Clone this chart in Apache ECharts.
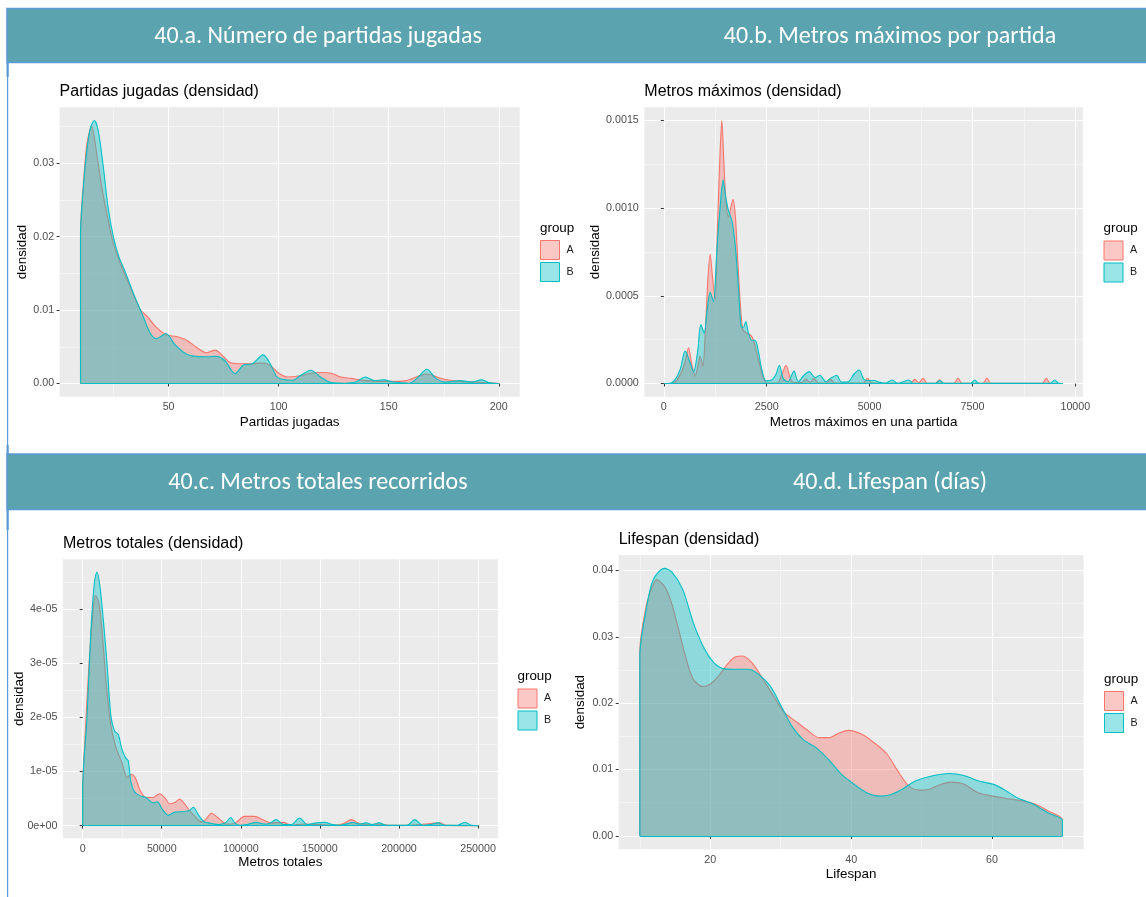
<!DOCTYPE html>
<html>
<head>
<meta charset="utf-8">
<title>Densidades por grupo</title>
<script src="https://cdn.jsdelivr.net/npm/echarts@6.0.0/dist/echarts.min.js"></script>
<style>
  html, body { margin: 0; padding: 0; background: #ffffff; }
  #chart { width: 1146px; height: 897px; }
</style>
</head>
<body>
<div id="chart"></div>
<script>
// ---- Density estimates: [x, density] per group ----
const partidasA = [[10,0.0205],[11.5,0.028],[13,0.0328],[15,0.035],[17.35,0.0313],[19.6,0.0268],[21.9,0.0232],[24.9,0.0191],[28.7,0.0159],[32.5,0.0132],[37,0.0101],[40.1,0.0092],[44.6,0.0076],[49.2,0.0066],[53.7,0.0064],[58.2,0.0059],[62.8,0.0049],[67.3,0.0042],[71.1,0.00455],[74.9,0.0037],[77.9,0.00285],[82.4,0.0027],[87.8,0.0027],[93,0.0028],[96.5,0.0024],[99.6,0.0015],[104,0.0009],[108.4,0.001],[114.6,0.0014],[119.8,0.0015],[124,0.0014],[128.3,0.0009],[133,0.0007],[139.4,0.0004],[146.5,0.0003],[153.2,0.0003],[158,0.0004],[162.5,0.0009],[167.3,0.0013],[172.7,0.0008],[178,0.00045],[182.6,0.0003],[189.5,0.0002],[196,0.0001],[200,0]];
const partidasB = [[10,0.0202],[11.5,0.0275],[13,0.032],[14.5,0.0348],[16.3,0.0358],[18,0.0345],[20.35,0.0295],[22.5,0.024],[24.9,0.02],[27.5,0.0172],[30.2,0.0153],[34,0.0123],[37.8,0.0096],[41.6,0.0069],[44.3,0.0061],[46.5,0.0064],[48.8,0.0068],[52.9,0.0053],[58.2,0.004],[62.8,0.0037],[67,0.00365],[71.9,0.0037],[75.6,0.0031],[80.2,0.00135],[83.9,0.0025],[88,0.0027],[93,0.0039],[96.5,0.0025],[99.6,0.0008],[106.2,0.00045],[110.5,0.0012],[114.6,0.0018],[119,0.0009],[123.7,0.00013],[130,0.00005],[135,0.0002],[139.4,0.0009],[143.5,0.0004],[147.8,0.0005],[152,0.0002],[159.5,0.00005],[163.5,0.0009],[167.3,0.00194],[171.8,0.0006],[176,0.0002],[182.6,0.0004],[187.7,0.0002],[192.2,0.0005],[196,0.0001],[200,0]];

const metrosMaxA = [[10,0],[200,0.000002],[320,0.00002],[439,0.000071],[519,0.000128],[600,0.000204],[681,0.000109],[762,0.000043],[842,0.000119],[883,0.000156],[948,0.0001],[1004,0.00027],[1069,0.00059],[1126,0.000737],[1182,0.000609],[1247,0.000477],[1303,0.00089],[1368,0.001326],[1409,0.0015],[1458,0.00127],[1514,0.001025],[1570,0.00095],[1628,0.001005],[1684,0.00105],[1740,0.00095],[1788,0.00074],[1853,0.000477],[1919,0.000307],[1999,0.000289],[2096,0.000279],[2176,0.00025],[2258,0.000175],[2339,0.0001],[2419,0.000034],[2500,0.000003],[2750,0.000003],[2850,0.00004],[2970,0.000104],[3060,0.00004],[3147,0.000006],[3350,0.000005],[3450,0.000025],[3550,0.000005],[3650,0.00003],[3750,0.000005],[3950,0.000003],[4050,0.000025],[4150,0.000003],[4850,0.000003],[4950,0.00003],[5050,0.000003],[6000,0.000002],[6099,0.000024],[6200,0.000005],[6301,0.00003],[6400,0.000002],[6600,0.000002],[6700,0.000022],[6800,0.000002],[7050,0.000002],[7150,0.00003],[7250,0.000002],[7750,0.000002],[7853,0.00003],[7950,0.000002],[9200,0.000002],[9294,0.00003],[9390,0.000002],[9700,0]];
const metrosMaxB = [[10,0],[155,0.000001],[277,0.000024],[398,0.000081],[519,0.000185],[640,0.000119],[721,0.000066],[818,0.000175],[900,0.000336],[980,0.000289],[1045,0.000402],[1126,0.00052],[1206,0.000468],[1288,0.00076],[1368,0.001005],[1441,0.00116],[1506,0.00106],[1570,0.000987],[1652,0.00093],[1732,0.000798],[1812,0.000552],[1878,0.000326],[1934,0.00032],[1991,0.000354],[2055,0.000289],[2137,0.000247],[2217,0.000247],[2298,0.000185],[2379,0.000081],[2484,0.000015],[2622,0.00002],[2727,0.000053],[2808,0.000104],[2905,0.000028],[3026,0.00001],[3090,0.00004],[3164,0.000071],[3268,0.00001],[3390,0.000043],[3535,0.000068],[3673,0.000034],[3794,0.000047],[3940,0.00001],[4053,0.00003],[4199,0.000047],[4320,0.000008],[4481,0.00001],[4619,0.000053],[4748,0.000077],[4862,0.000024],[5009,0.000017],[5129,0.000017],[5234,0.000008],[5380,0.000002],[5549,0.00002],[5680,0.000001],[5953,0.00002],[6060,0.000001],[6600,0.000001],[6706,0.000017],[6810,0.000001],[7450,0.000001],[7555,0.00002],[7660,0.000001],[9390,0.000001],[9496,0.00002],[9600,0.000001],[9700,0]];

const metrosTotA = [[0,0.0000065],[1650,0.0000172],[3950,0.0000295],[6270,0.0000387],[8100,0.0000426],[10200,0.0000412],[12530,0.000035],[14800,0.0000265],[17850,0.0000185],[21340,0.0000142],[24760,0.0000117],[28260,0.0000089],[30580,0.0000095],[33200,0.0000089],[36350,0.0000065],[40100,0.0000052],[44450,0.0000052],[48570,0.0000059],[52700,0.0000049],[54900,0.000004],[58500,0.0000043],[61230,0.0000049],[64500,0.000004],[67560,0.0000028],[71000,0.0000017],[74970,0.0000007],[78000,0.0000012],[81300,0.0000023],[86560,0.0000012],[90800,0.0000003],[94000,0.0000003],[97130,0.0000006],[102400,0.0000017],[108700,0.0000017],[114000,0.0000011],[119300,0.0000005],[126640,0.0000006],[132000,0.0000001],[140000,0.0000003],[150000,0.0000002],[160000,0.0000001],[165000,0.0000004],[169900,0.0000011],[175000,0.0000004],[182000,0.0000002],[188000,0.0000003],[195000,0.00000005],[205000,0.00000005],[214000,0.0000002],[219500,0.0000004],[225800,0.0000005],[230000,0.00000005],[250000,0]];
const metrosTotB = [[0,0.0000065],[2786,0.0000203],[5129,0.0000357],[7408,0.0000449],[9055,0.0000469],[10890,0.0000443],[13230,0.0000375],[15510,0.0000295],[17850,0.0000203],[20140,0.0000175],[22480,0.0000169],[24760,0.0000142],[27100,0.0000126],[28750,0.000012],[30580,0.000008],[32870,0.0000062],[36350,0.0000055],[39830,0.0000052],[44450,0.0000042],[47240,0.0000044],[50210,0.0000031],[54200,0.0000019],[58320,0.0000025],[64140,0.0000026],[67560,0.0000028],[69910,0.0000034],[73390,0.0000019],[76870,0.0000007],[81490,0.0000004],[86100,0.0000002],[90740,0.0000006],[93530,0.0000015],[96500,0.0000004],[99300,0.00000005],[104000,0.0000002],[109800,0.0000006],[115000,0.0000003],[118000,0.0000004],[122450,0.0000011],[127000,0.0000002],[132000,0.0000002],[137200,0.0000014],[142000,0.0000002],[148000,0.0000005],[153000,0.0000006],[158000,0.0000002],[163000,0.00000005],[171000,0.0000006],[175000,0.0000003],[179400,0.0000005],[183000,0.0000002],[187400,0.0000005],[192000,0.00000005],[205000,0.00000005],[210000,0.0000011],[215000,0.00000005],[220000,0.0000002],[224800,0.0000005],[229000,0.00000005],[237000,0.00000005],[241700,0.0000006],[246000,0.00000005],[250000,0]];

const lifespanA = [[10,0.0278],[10.9,0.0346],[11.7,0.0373],[12.4,0.0386],[13.5,0.0376],[14.5,0.0351],[15.5,0.0311],[16.6,0.0266],[17.6,0.0236],[18.9,0.0225],[19.9,0.0228],[21.2,0.0241],[22.3,0.0257],[23.6,0.027],[24.6,0.0271],[25.9,0.0261],[27.5,0.0236],[29,0.021],[30.6,0.0185],[32.1,0.0173],[33.7,0.016],[35.5,0.0148],[36.8,0.0148],[38.3,0.0155],[39.6,0.0159],[41.5,0.0153],[43.3,0.014],[45.1,0.0123],[46.6,0.0098],[48.2,0.0075],[49.7,0.0069],[51,0.007],[52.3,0.0076],[54.1,0.0081],[56,0.0078],[58,0.0065],[60.1,0.006],[62.2,0.0056],[64.2,0.0053],[66.1,0.0048],[67.9,0.0038],[70,0.0024]];
const lifespanB = [[10,0.0271],[10.9,0.0341],[11.9,0.0386],[13.5,0.0403],[14.5,0.0398],[16.1,0.0371],[17.6,0.0321],[19.2,0.0281],[20.5,0.0261],[21.8,0.0252],[23.3,0.0251],[25.4,0.0251],[26.9,0.0243],[28.5,0.0226],[30.1,0.0195],[31.6,0.0165],[33.2,0.0145],[35,0.0133],[36.8,0.0115],[38.6,0.0093],[40.4,0.0078],[42.2,0.0065],[44,0.006],[45.6,0.0062],[47.2,0.007],[49.2,0.0083],[51.3,0.009],[53.9,0.0094],[56,0.0091],[58,0.0083],[60.1,0.0078],[61.7,0.007],[63.5,0.0058],[65.8,0.0048],[67.9,0.0035],[70,0.0023]];

// ---- Axis breaks ----
const partidasBreaksX = [50, 100, 150, 200];
const partidasBreaksY = [0, 0.01, 0.02, 0.03];
const metrosMaxBreaksX = [0, 2500, 5000, 7500, 10000];
const metrosMaxBreaksY = [0, 0.0005, 0.001, 0.0015];
const metrosTotBreaksX = [0, 50000, 100000, 150000, 200000, 250000];
const metrosTotBreaksY = [0, 1e-5, 2e-5, 3e-5, 4e-5];
const lifespanBreaksX = [20, 40, 60];
const lifespanBreaksY = [0, 0.01, 0.02, 0.03, 0.04];

// ---- Texts ----
const groupNames = ['A', 'B'];
const headerTexts = ['40.a. Número de partidas jugadas', '40.b. Metros máximos por partida', '40.c. Metros totales recorridos', '40.d. Lifespan (días)'];
const plotTitles = ['Partidas jugadas (densidad)', 'Metros máximos (densidad)', 'Metros totales (densidad)', 'Lifespan (densidad)'];
const xTitles = ['Partidas jugadas', 'Metros máximos en una partida', 'Metros totales', 'Lifespan'];
const yTitle = 'densidad';
const legendTitle = 'group';

// ---- Styling ----
const FONT = "'Liberation Sans', Arial, Helvetica, sans-serif";
const HEAD_FONT = "Carlito, Calibri, Lato, sans-serif";
const lineColors = ['#F8766D', '#00BFC4'];
const fillColors = ['rgba(248,118,109,0.4)', 'rgba(0,191,196,0.4)'];
const PANEL_BG = '#EBEBEB';

const fmt2 = v => v.toFixed(2);
const fmt4 = v => v.toFixed(4);
const fmtInt = v => String(Math.round(v));
const fmtSci = v => {
  if (v === 0) return '0e+00';
  const parts = v.toExponential(0).split('e');
  const e = parseInt(parts[1], 10);
  return parts[0] + 'e' + (e < 0 ? '-' : '+') + String(Math.abs(e)).padStart(2, '0');
};

const panels = [
  { a: partidasA, b: partidasB, bx: partidasBreaksX, by: partidasBreaksY, fx: fmtInt, fy: fmt2,
    grid: { left: 59.6, top: 107.3, width: 460.1, height: 289.4 }, xGap: 19, yGap: 31, legend: [540, 240] },
  { a: metrosMaxA, b: metrosMaxB, bx: metrosMaxBreaksX, by: metrosMaxBreaksY, fx: fmtInt, fy: fmt4,
    grid: { left: 644.3, top: 107.3, width: 438.6, height: 289.4 }, xGap: 19, yGap: 42, legend: [1103.5, 240.5] },
  { a: metrosTotA, b: metrosTotB, bx: metrosTotBreaksX, by: metrosTotBreaksY, fx: fmtInt, fy: fmtSci,
    grid: { left: 62.9, top: 559.3, width: 434.9, height: 279 }, xGap: 18, yGap: 37.5, legend: [517.5, 688.5] },
  { a: lifespanA, b: lifespanB, bx: lifespanBreaksX, by: lifespanBreaksY, fx: fmtInt, fy: fmt2,
    grid: { left: 618.7, top: 555, width: 464.9, height: 294.3 }, xGap: 19, yGap: 32, legend: [1104, 691] }
];

// ggplot-style 5% expansion of the data range
function expand(lo, hi) { const d = (hi - lo) * 0.05; return [lo - d, hi + d]; }
// minor grid lines halfway between breaks (and half a step beyond the ends)
function minorOf(br) {
  const step = br[1] - br[0];
  const out = [br[0] - step / 2];
  for (let i = 0; i < br.length; i++) out.push(br[i] + step / 2);
  return out;
}

panels.forEach(p => {
  const xs = p.a.concat(p.b).map(d => d[0]);
  const ys = p.a.concat(p.b).map(d => d[1]);
  p.xr = expand(Math.min.apply(null, xs), Math.max.apply(null, xs));
  p.yr = expand(0, Math.max.apply(null, ys));
});

const xAxes = [], yAxes = [], grids = [], series = [], legends = [], graphics = [];

panels.forEach((p, i) => {
  grids.push(Object.assign({ show: true, backgroundColor: PANEL_BG, borderWidth: 0, containLabel: false, outerBoundsMode: 'none' }, p.grid));

  xAxes.push({
    type: 'value', gridIndex: i, min: p.xr[0], max: p.xr[1], position: 'bottom',
    name: xTitles[i], nameLocation: 'middle', nameGap: p.xGap, nameMoveOverlap: false,
    nameTextStyle: { color: '#000000', fontSize: 13.4, fontFamily: FONT },
    axisLine: { show: false },
    axisTick: { show: true, length: 3, lineStyle: { color: '#333333', width: 1 }, customValues: p.bx },
    axisLabel: { customValues: p.bx, formatter: p.fx, color: '#4D4D4D', fontSize: 10.7, fontFamily: FONT, margin: 5 },
    splitLine: { show: true, lineStyle: { color: '#FFFFFF', width: 1.1 } }
  });
  xAxes.push({
    type: 'value', gridIndex: i, min: p.xr[0], max: p.xr[1], position: 'bottom',
    axisLine: { show: false }, axisTick: { show: false, customValues: minorOf(p.bx) },
    axisLabel: { show: false, customValues: minorOf(p.bx) },
    splitLine: { show: true, lineStyle: { color: '#FAFAFA', width: 0.6 } }
  });
  yAxes.push({
    type: 'value', gridIndex: i, min: p.yr[0], max: p.yr[1], position: 'left',
    name: yTitle, nameLocation: 'middle', nameGap: p.yGap, nameMoveOverlap: false,
    nameTextStyle: { color: '#000000', fontSize: 13.4, fontFamily: FONT },
    axisLine: { show: false },
    axisTick: { show: true, length: 3, lineStyle: { color: '#333333', width: 1 }, customValues: p.by },
    axisLabel: { customValues: p.by, formatter: p.fy, color: '#4D4D4D', fontSize: 10.7, fontFamily: FONT, margin: 5.5 },
    splitLine: { show: true, lineStyle: { color: '#FFFFFF', width: 1.1 } }
  });
  yAxes.push({
    type: 'value', gridIndex: i, min: p.yr[0], max: p.yr[1], position: 'left',
    axisLine: { show: false }, axisTick: { show: false, customValues: minorOf(p.by) },
    axisLabel: { show: false, customValues: minorOf(p.by) },
    splitLine: { show: true, lineStyle: { color: '#FAFAFA', width: 0.6 } }
  });

  [p.a, p.b].forEach((pts, g) => {
    const x0 = pts[0][0], x1 = pts[pts.length - 1][0];
    const data = pts.slice();
    // close the density polygon with vertical edges down to zero
    if (pts[0][1] !== 0) data.unshift([x0, 0]);
    if (pts[pts.length - 1][1] !== 0) data.push([x1, 0]);
    series.push({
      type: 'line', name: groupNames[g], xAxisIndex: i * 2, yAxisIndex: i * 2,
      data: data, smooth: 0.3, symbol: 'none', showSymbol: false, silent: true,
      animation: false, z: 2 + g,
      lineStyle: { color: lineColors[g], width: 1.1 },
      itemStyle: { color: lineColors[g] },
      areaStyle: { color: fillColors[g], opacity: 1 },
      emphasis: { disabled: true },
      markLine: {
        silent: true, animation: false, symbol: ['none', 'none'], label: { show: false },
        lineStyle: { color: lineColors[g], width: 1.1, type: 'solid' },
        emphasis: { disabled: true },
        data: [[{ coord: [x0, 0] }, { coord: [x1, 0] }]]
      }
    });
  });

  legends.push({
    left: p.legend[0], top: p.legend[1], orient: 'vertical', padding: 0,
    itemWidth: 19, itemHeight: 19, itemGap: 2, icon: 'rect', selectedMode: false,
    textStyle: { color: '#1A1A1A', fontSize: 10.7, fontFamily: FONT, padding: [0, 0, 0, 2] },
    data: groupNames.map((n, g) => ({ name: n, itemStyle: { color: fillColors[g], borderColor: lineColors[g], borderWidth: 1 } }))
  });

  // plot title, left-aligned to the panel
  graphics.push({
    type: 'text', x: p.grid.left, y: p.grid.top - 10.3 - 0.3465 * 16,
    style: { text: plotTitles[i], fill: '#000000', font: '16px ' + FONT, align: 'left', verticalAlign: 'middle', textAlign: 'left', textVerticalAlign: 'middle' }
  });
  // legend title
  graphics.push({
    type: 'text', x: p.legend[0], y: p.legend[1] - 7.5 - 0.3465 * 13.4,
    style: { text: legendTitle, fill: '#000000', font: '13.4px ' + FONT, align: 'left', verticalAlign: 'middle', textAlign: 'left', textVerticalAlign: 'middle' }
  });
});

// Section header bands
const BAND = '#5BA3AF', EDGE = '#5B9BD5';
const bands = [{ y: 8.5, h: 54 }, { y: 454, h: 55.5 }];
const frame = [
  { type: 'rect', shape: { x: 7, y: 63, width: 1.2, height: 834 }, style: { fill: EDGE } },
  { type: 'rect', shape: { x: 6.5, y: 63, width: 2.2, height: 14 }, style: { fill: EDGE } },
  { type: 'rect', shape: { x: 6.5, y: 445, width: 2.2, height: 9 }, style: { fill: EDGE } },
  { type: 'rect', shape: { x: 6.5, y: 509, width: 2.2, height: 21 }, style: { fill: EDGE } }
];
bands.forEach(b => {
  frame.push({ type: 'rect', shape: { x: 7, y: b.y, width: 1150, height: b.h }, style: { fill: BAND, stroke: EDGE, lineWidth: 1.6 } });
});
const headerPos = [[318, 36.5], [890, 36.5], [318, 483], [890, 483]];
headerTexts.forEach((t, i) => {
  frame.push({
    type: 'text', x: headerPos[i][0], y: headerPos[i][1],
    style: { text: t, fill: '#FFFFFF', font: '24px ' + HEAD_FONT, align: 'center', verticalAlign: 'middle', textAlign: 'center', textVerticalAlign: 'middle' }
  });
});

const chart = echarts.init(document.getElementById('chart'), null, { renderer: 'canvas' });
chart.setOption({
  animation: false,
  backgroundColor: '#FFFFFF',
  textStyle: { fontFamily: FONT },
  grid: grids,
  xAxis: xAxes,
  yAxis: yAxes,
  legend: legends,
  series: series,
  graphic: frame.concat(graphics)
});
</script>
</body>
</html>
